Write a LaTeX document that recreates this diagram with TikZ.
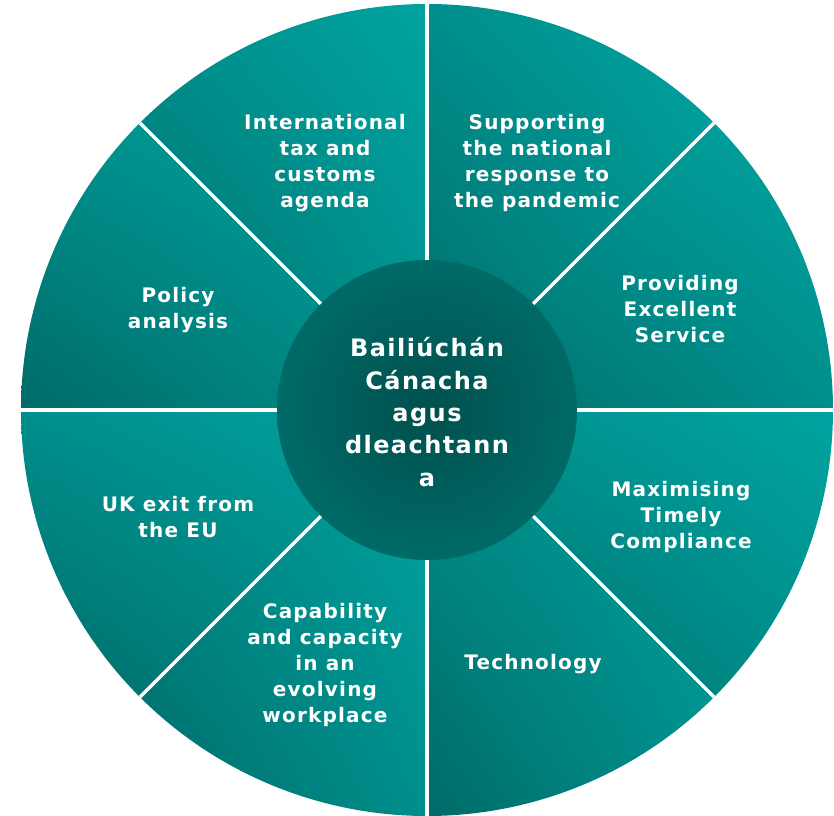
\documentclass[tikz,border=0pt]{standalone}
\usepackage{fontspec}
\setmainfont{DejaVu Sans}
\newfontfamily\spacedfont{DejaVu Sans}[LetterSpace=6]
\usetikzlibrary{shadings}
\definecolor{tlight}{HTML}{00A3A0}
\definecolor{tmid}{HTML}{008F8C}
\definecolor{tdark}{HTML}{006B68}
\definecolor{cin}{HTML}{00504E}
\definecolor{cout}{HTML}{006A67}
\begin{document}
\begin{tikzpicture}[x=1pt,y=1pt,
  sector/.style={upper right=tlight, lower left=tdark, upper left=tmid, lower right=tmid},
  sep/.style={draw=white, line width=3.5pt},
  lbl/.style={text=white, align=center, font=\spacedfont\fontsize{20}{26}\selectfont\bfseries, inner sep=0pt},
  clbl/.style={text=white, align=center, font=\spacedfont\fontsize{24}{32.3}\selectfont\bfseries, inner sep=0pt}]
\useasboundingbox (0,0) rectangle (834,815);
\coordinate (c) at (427,405);
\def\R{406}
\foreach \k in {0,...,7}{
  \pgfmathsetmacro{\a}{45*\k}
  \pgfmathsetmacro{\b}{45*\k+45}
  \path[sector] (c) -- ++(\a:\R) arc[start angle=\a, end angle=\b, radius=\R] -- cycle;
}
\foreach \k in {0,...,7}{
  \draw[sep] (c) -- ++(45*\k:\R);
}
\node[circle, minimum size=300pt, inner sep=0pt, inner color=cin, outer color=cout] (hub) at (c) {};
\node[clbl] (hubtext) at (427,403) {Bailiúchán\\Cánacha\\agus\\dleachtann\\a};
\node[lbl] (intl) at (325,652) {International\\tax and\\customs\\agenda};
\node[lbl] (supp) at (537,652) {Supporting\\the national\\response to\\the pandemic};
\node[lbl] (prov) at (680,506) {Providing\\Excellent\\Service};
\node[lbl] (pol) at (178,505) {Policy\\analysis};
\node[lbl] (maxi) at (681,298) {Maximising\\Timely\\Compliance};
\node[lbl] (ukx) at (178,298) {UK exit from\\the EU};
\node[lbl] (tech) at (533,151) {Technology};
\node[lbl] (capa) at (325,150) {Capability\\and capacity\\in an\\evolving\\workplace};
\end{tikzpicture}
\end{document}
